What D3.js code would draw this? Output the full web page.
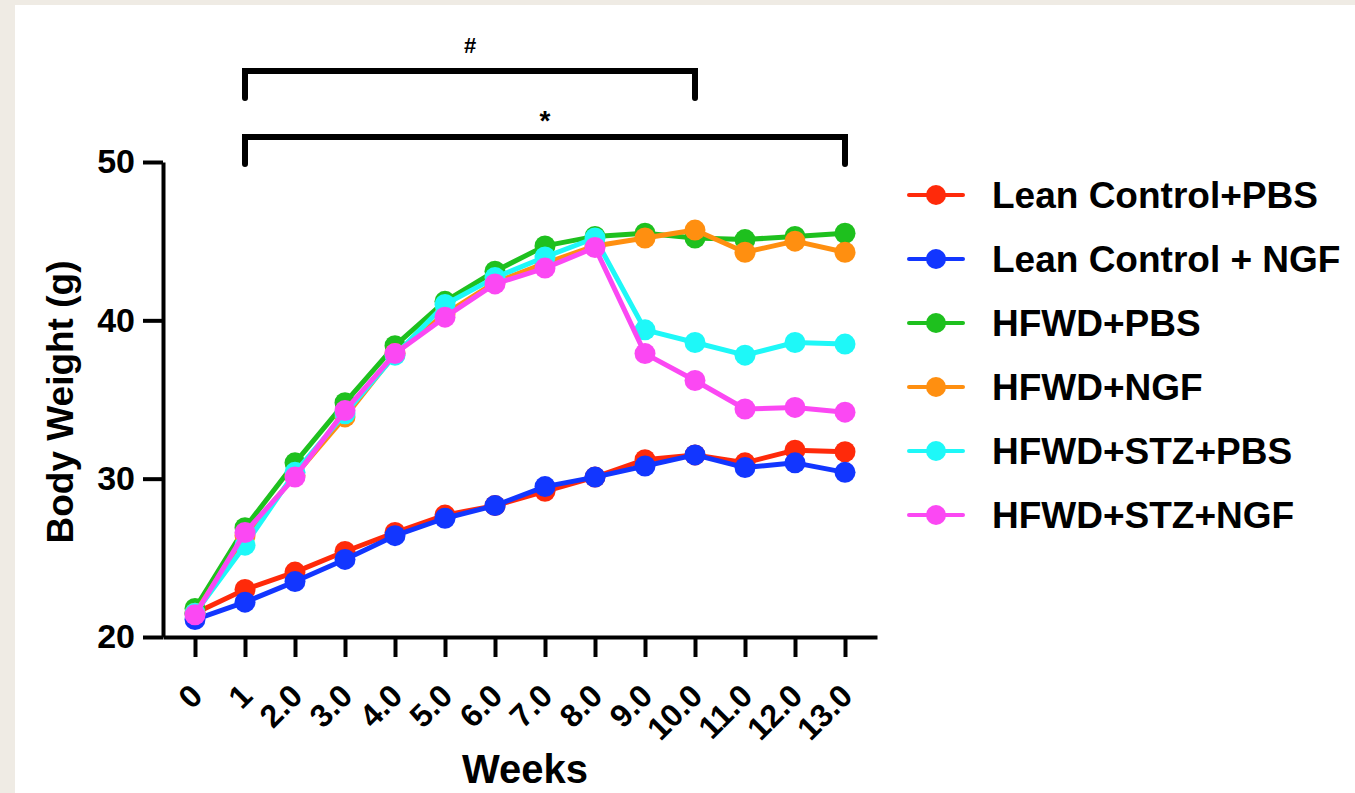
<!DOCTYPE html>
<html>
<head>
<meta charset="utf-8">
<script src="https://cdn.jsdelivr.net/npm/d3@7"></script>
<style>
  html, body { margin: 0; padding: 0; background: #efebe4; }
  svg { display: block; }
  text { font-family: "Liberation Sans", Arial, sans-serif; font-weight: bold; }
</style>
</head>
<body>
<div id="chart"></div>
<script>
// weeks on the x axis and how each one is written
var weeks = [0, 1, 2, 3, 4, 5, 6, 7, 8, 9, 10, 11, 12, 13];
var weekLabels = ["0", "1", "2.0", "3.0", "4.0", "5.0", "6.0", "7.0", "8.0", "9.0", "10.0", "11.0", "12.0", "13.0"];
var yTicks = [20, 30, 40, 50];

var groups = ["Lean Control+PBS", "Lean Control + NGF", "HFWD+PBS", "HFWD+NGF", "HFWD+STZ+PBS", "HFWD+STZ+NGF"];
var groupColors = ["#ff2a0a", "#1236ff", "#1ec01e", "#ff8f10", "#1ef8f8", "#fb48f3"];

// body weight (g), one value per week
var leanPBS   = [21.5, 23.0, 24.1, 25.4, 26.6, 27.7, 28.3, 29.2, 30.1, 31.2, 31.5, 31.0, 31.8, 31.7];
var leanNGF   = [21.1, 22.2, 23.5, 24.9, 26.4, 27.5, 28.3, 29.5, 30.1, 30.8, 31.5, 30.7, 31.0, 30.4];
var hfwdPBS   = [21.8, 26.9, 31.0, 34.8, 38.4, 41.2, 43.1, 44.7, 45.3, 45.5, 45.2, 45.1, 45.3, 45.5];
var hfwdNGF   = [21.5, 26.4, 30.2, 33.9, 37.9, 40.4, 42.4, 43.6, 44.7, 45.2, 45.7, 44.3, 45.0, 44.3];
var stzPBS    = [21.5, 25.8, 30.4, 34.1, 37.8, 41.0, 42.7, 44.0, 45.2, 39.4, 38.6, 37.8, 38.6, 38.5];
var stzNGF    = [21.4, 26.6, 30.1, 34.3, 37.9, 40.2, 42.3, 43.3, 44.6, 37.9, 36.2, 34.4, 34.5, 34.2];
var seriesValues = [leanPBS, leanNGF, hfwdPBS, hfwdNGF, stzPBS, stzNGF];

// significance brackets: from week, to week, mark
var brackets = [
  {from: 1, to: 10, mark: "#", level: 0},
  {from: 1, to: 13, mark: "*", level: 1}
];

var W = 1355, H = 793;

var svg = d3.select("#chart")
  .append("svg")
  .attr("width", W)
  .attr("height", H);

svg.append("rect")
  .attr("x", 15).attr("y", 5)
  .attr("width", W - 15).attr("height", H - 5)
  .attr("fill", "#ffffff");

var x = d3.scaleLinear().domain([-0.64, 13.64]).range([163, 877]);
var y = d3.scaleLinear().domain([20, 50]).range([637, 162]);

// y axis
var yAxis = svg.append("g")
  .attr("transform", "translate(163,0)")
  .call(d3.axisLeft(y).tickValues(yTicks).tickSize(20).tickSizeOuter(0).tickPadding(8));
yAxis.selectAll("text").style("font-size", "34px").attr("fill", "#000");

// x axis
var xAxis = svg.append("g")
  .attr("transform", "translate(0,637)")
  .call(d3.axisBottom(x).tickValues(weeks).tickSize(20).tickSizeOuter(0)
    .tickFormat(function(d, i) { return weekLabels[i]; }));
xAxis.selectAll("text")
  .style("font-size", "32px")
  .attr("fill", "#000")
  .attr("text-anchor", "end")
  .attr("dy", "0.35em")
  .attr("transform", "translate(1,53) rotate(-45)")
  .attr("y", 0).attr("x", 0);

[yAxis, xAxis].forEach(function(a) {
  a.selectAll("path, line").attr("stroke", "#000").attr("stroke-width", 4);
});

// axis titles
svg.append("text")
  .attr("transform", "translate(73," + 402 + ") rotate(-90)")
  .attr("text-anchor", "middle")
  .style("font-size", "37px")
  .text("Body Weight (g)");

svg.append("text")
  .attr("x", 525).attr("y", 783)
  .attr("text-anchor", "middle")
  .style("font-size", "40px")
  .text("Weeks");

// series
var line = d3.line()
  .x(function(d, i) { return x(weeks[i]); })
  .y(function(d) { return y(d); });

seriesValues.forEach(function(vals, k) {
  var g = svg.append("g");
  g.append("path")
    .datum(vals)
    .attr("d", line)
    .attr("fill", "none")
    .attr("stroke", groupColors[k])
    .attr("stroke-width", 5)
    .attr("stroke-linejoin", "round");
  g.selectAll("circle")
    .data(vals)
    .enter()
    .append("circle")
    .attr("cx", function(d, i) { return x(weeks[i]); })
    .attr("cy", function(d) { return y(d); })
    .attr("r", 10.5)
    .attr("fill", groupColors[k]);
});

// brackets
brackets.forEach(function(b) {
  var top = 71 + b.level * 66;
  var drop = 27;
  svg.append("path")
    .attr("d", "M" + x(b.from) + "," + (top + drop) + "V" + top + "H" + x(b.to) + "V" + (top + drop))
    .attr("fill", "none")
    .attr("stroke", "#000")
    .attr("stroke-width", 6)
    .attr("stroke-linecap", "round")
    .attr("stroke-linejoin", "miter");
  svg.append("text")
    .attr("x", (x(b.from) + x(b.to)) / 2)
    .attr("y", b.mark === "#" ? top - 18 : top - 7)
    .attr("text-anchor", "middle")
    .style("font-size", b.mark === "#" ? "22px" : "28px")
    .text(b.mark);
});

// legend
var legend = svg.append("g");
groups.forEach(function(name, k) {
  var ly = 195 + k * 64;
  legend.append("line")
    .attr("x1", 909).attr("x2", 963)
    .attr("y1", ly).attr("y2", ly)
    .attr("stroke", groupColors[k])
    .attr("stroke-width", 4)
    .attr("stroke-linecap", "round");
  legend.append("circle")
    .attr("cx", 936).attr("cy", ly).attr("r", 10)
    .attr("fill", groupColors[k]);
  legend.append("text")
    .attr("x", 992).attr("y", ly)
    .attr("dy", "0.36em")
    .style("font-size", "37px")
    .text(name);
});
</script>
</body>
</html>
